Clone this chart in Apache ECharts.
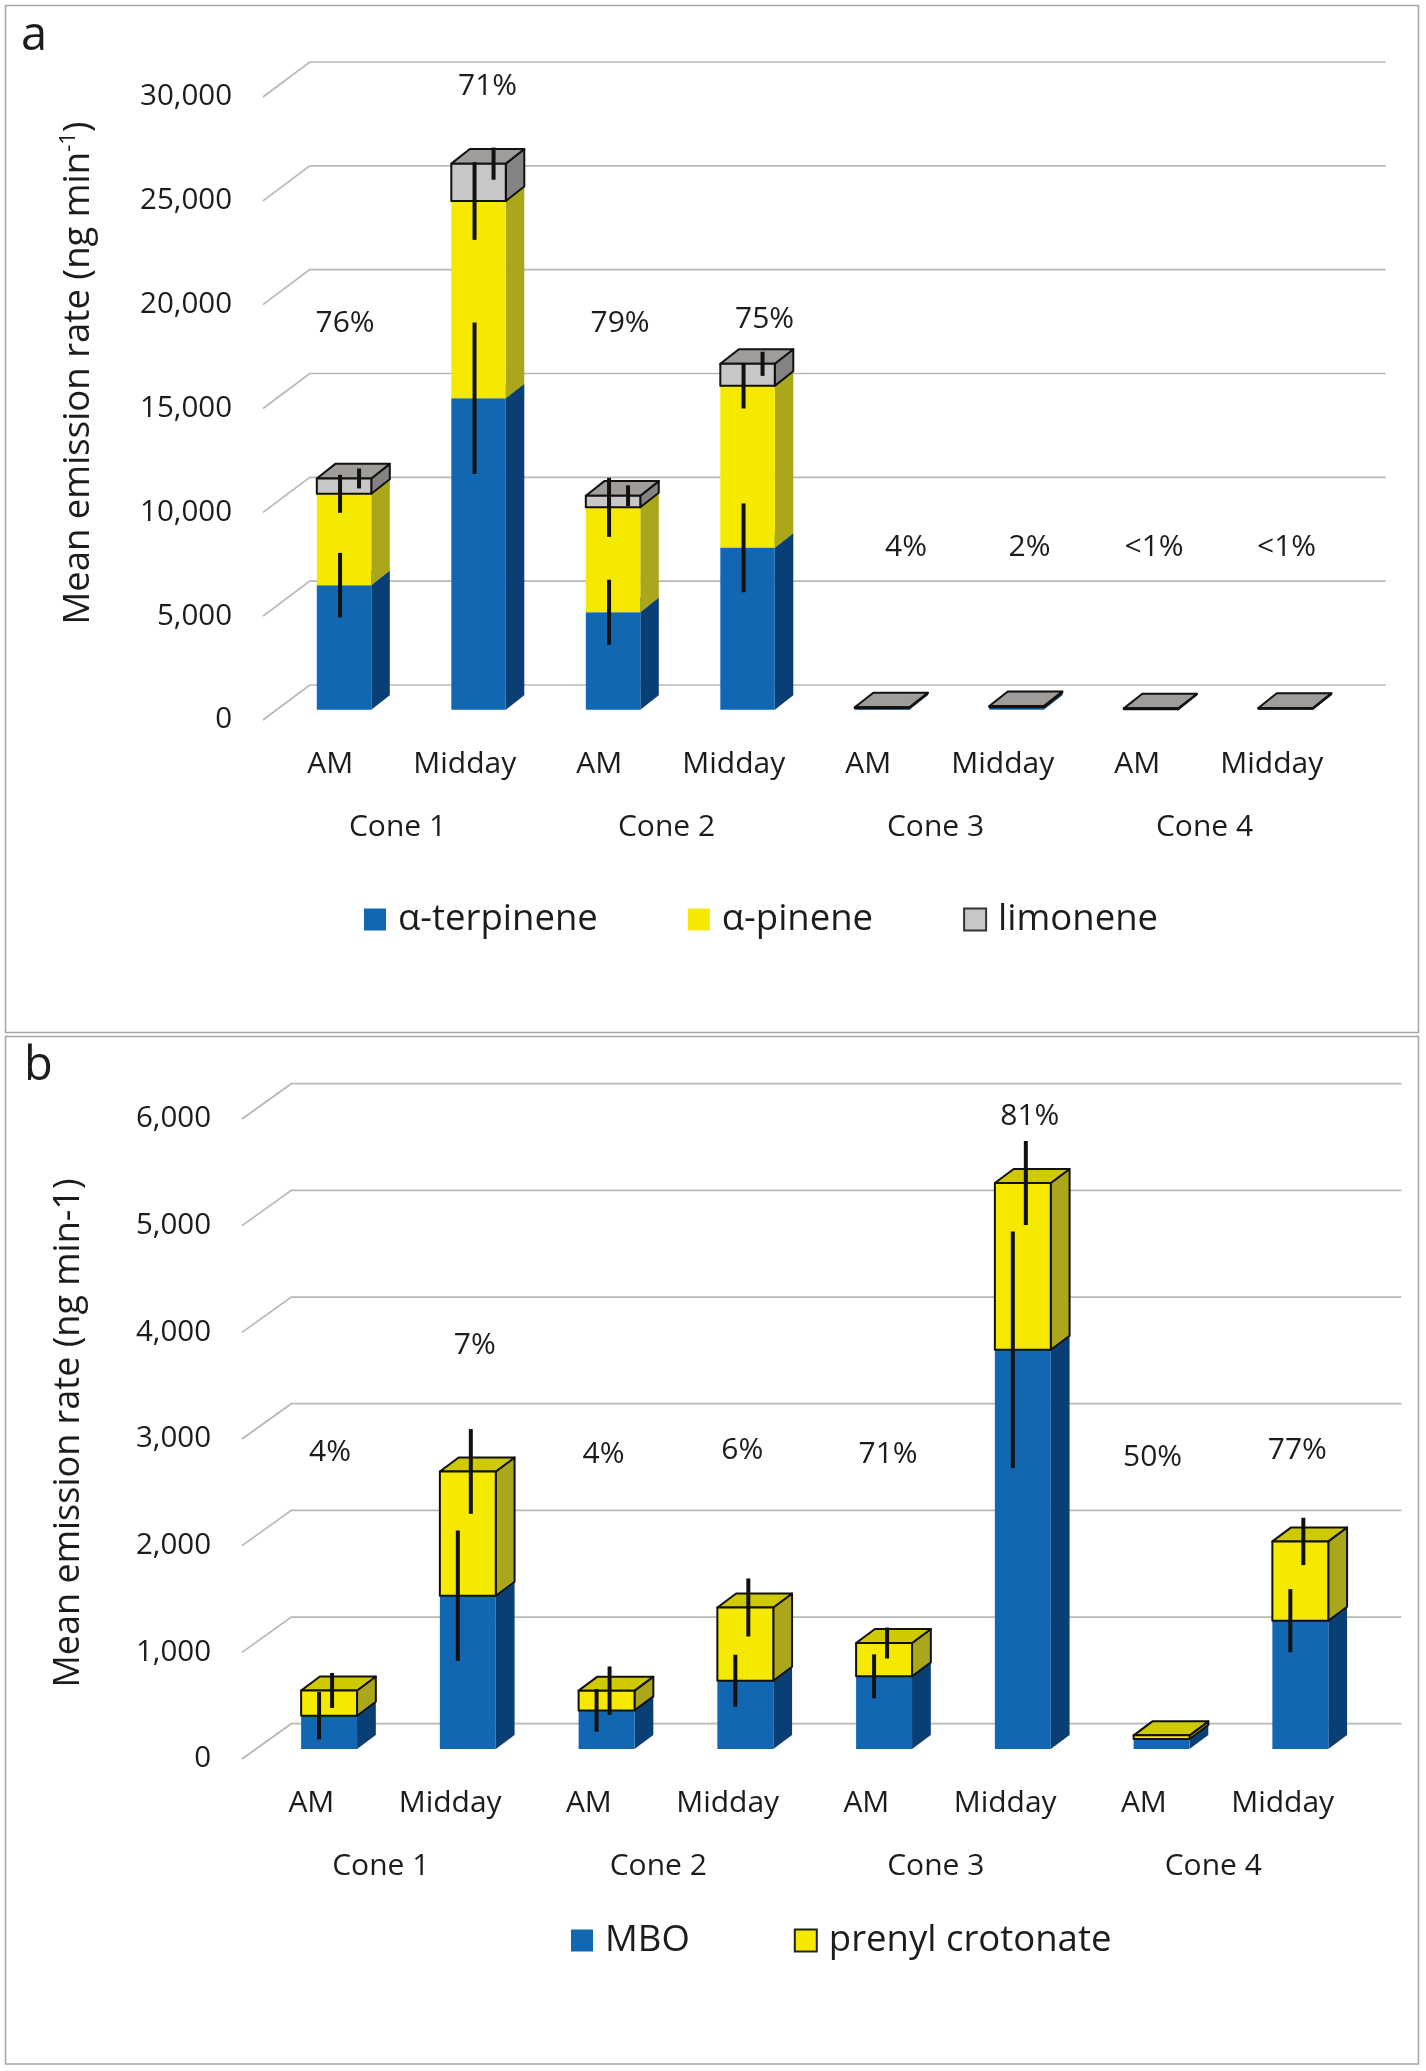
<!DOCTYPE html>
<html>
<head>
<meta charset="utf-8">
<title>Mean emission rate</title>
<script src="https://cdn.jsdelivr.net/npm/echarts@6/dist/echarts.min.js"></script>
<style>
  html, body { margin: 0; padding: 0; background: #fff; }
  #chart { width: 1426px; height: 2071px; }
</style>
</head>
<body>
<div id="chart"></div>
<script>
// categories
var times = ['AM', 'Midday', 'AM', 'Midday', 'AM', 'Midday', 'AM', 'Midday'];
var cones = ['Cone 1', 'Cone 2', 'Cone 3', 'Cone 4'];

// panel a (ng min-1)
var terpinene = [6000, 15000, 4700, 7800, 60, 90, 20, 40];
var pinene = [4400, 9500, 5050, 7800, 20, 30, 10, 10];
var limonene = [740, 1800, 560, 1060, 40, 60, 40, 40];
var terpineneErr = [1555, 3650, 1565, 2140, 0, 0, 0, 0];
var pineneErr = [915, 1870, 1420, 1090, 0, 0, 0, 0];
var limoneneErr = [480, 775, 500, 580, 0, 0, 0, 0];
var pctA = ['76%', '71%', '79%', '75%', '4%', '2%', '<1%', '<1%'];
var pctAAt = [19100, 30500, 19100, 19300, 8300, 8300, 8300, 8300];
var ticksA = [0, 5000, 10000, 15000, 20000, 25000, 30000];

// panel b (ng min-1)
var mbo = [312, 1437, 362, 640, 681, 3743, 94, 1203];
var prenyl = [237, 1165, 185, 687, 313, 1563, 34, 743];
var mboErr = [222, 612, 200, 244, 206, 1109, 0, 296];
var prenylErr = [164, 397, 227, 272, 145, 394, 0, 222];
var pctB = ['4%', '7%', '4%', '6%', '71%', '81%', '50%', '77%'];
var pctBAt = [2876, 3879, 2853, 2890, 2853, 6021, 2827, 2890];
var ticksB = [0, 1000, 2000, 3000, 4000, 5000, 6000];

var FONT = 'Open Sans';
var INK = '#1c1c1c';

// fake 3d look, pixel offsets; nudge = sideways shift of the % labels
var looks = [
  {front: [13.8, -10.2], depth: [18.5, -14.6], back: [46.7, -35], barFrac: 0.405, errDx: [-4, -4, 15],
   nudge: [1, 9, 7, 17, 24, 13, 3, 1]},
  {front: [17.7, -10], depth: [18.8, -14], back: [49.3, -35.3], barFrac: 0.403, errDx: [-10, 3],
   nudge: [1, 7, -3, -3, 4, 7, -9, -3]}
];

var BLUE = {face: '#1167b2', side: '#0a3f76', top: '#1a5a9a'};
var YELLOW = {face: '#f5e900', side: '#aba71b', top: '#cfc900'};
var GRAY = {face: '#c9c7c5', side: '#858381', top: '#9f9c9a'};

function stackRows(list) {
  var rows = list.map(function () { return []; });
  for (var i = 0; i < times.length; i++) {
    var base = 0;
    list.forEach(function (vals, k) {
      rows[k].push([i, base, base + vals[i]]);
      base += vals[i];
    });
  }
  return rows;
}

function errRows(list, errs) {
  var rows = [];
  for (var i = 0; i < times.length; i++) {
    var base = 0;
    list.forEach(function (vals, k) {
      base += vals[i];
      if (errs[k][i] > 0) rows.push([i, base, errs[k][i], k]);
    });
  }
  return rows;
}

function boxRender(look, col, outlined) {
  return function (params, api) {
    var i = api.value(0);
    var c0 = api.coord([i, api.value(1)]);
    var c1 = api.coord([i, api.value(2)]);
    var w = api.size([1, 0])[0] * look.barFrac;
    var xl = c0[0] + look.front[0] - w / 2, xr = xl + w;
    var yb = c0[1] + look.front[1], yt = c1[1] + look.front[1];
    var dx = look.depth[0], dy = look.depth[1];
    function st(fill) {
      return outlined ? {fill: fill, stroke: '#111', lineWidth: 2, lineJoin: 'round'} : {fill: fill};
    }
    return {
      type: 'group',
      children: [
        {type: 'polygon', shape: {points: [[xr, yb], [xr + dx, yb + dy], [xr + dx, yt + dy], [xr, yt]]}, style: st(col.side)},
        {type: 'polygon', shape: {points: [[xl, yt], [xl + dx, yt + dy], [xr + dx, yt + dy], [xr, yt]]}, style: st(col.top)},
        {type: 'rect', shape: {x: xl, y: yt, width: w, height: yb - yt}, style: st(col.face)}
      ]
    };
  };
}

function gridRender(look) {
  return function (params, api) {
    var y = api.coord([0, api.value(1)])[1];
    var cs = params.coordSys;
    var bx = look.back[0], by = look.back[1];
    return {
      type: 'polyline',
      shape: {points: [[cs.x, y], [cs.x + bx, y + by], [cs.x + cs.width + bx, y + by]]},
      style: {stroke: '#bab6b6', lineWidth: 1.7, fill: 'none'}
    };
  };
}

function errRender(look) {
  return function (params, api) {
    var i = api.value(0), v = api.value(1), e = api.value(2), k = api.value(3);
    var lo = api.coord([i, v - e]), hi = api.coord([i, v + e]);
    var x = lo[0] + look.front[0] + look.errDx[k];
    return {
      type: 'line',
      shape: {x1: x, y1: lo[1] + look.front[1], x2: x, y2: hi[1] + look.front[1]},
      style: {stroke: '#111', lineWidth: 4}
    };
  };
}

function pctRender(look, texts) {
  return function (params, api) {
    var p = api.coord([api.value(0), api.value(1)]);
    return {
      type: 'text',
      x: p[0] + look.front[0] + look.nudge[params.dataIndex],
      y: p[1],
      style: {text: texts[params.dataIndex], fontSize: 30, fontFamily: FONT, fill: INK, align: 'center', verticalAlign: 'middle'}
    };
  };
}

function panelSeries(idx, names, lists, cols, outlined, errs, pct, pctAt, ticks) {
  var look = looks[idx];
  var out = [];
  out.push({
    type: 'custom', name: 'grid' + idx, xAxisIndex: idx * 2, yAxisIndex: idx, z: 1, silent: true,
    renderItem: gridRender(look),
    data: ticks.map(function (t) { return [0, t]; })
  });
  var rows = stackRows(lists);
  names.forEach(function (nm, k) {
    out.push({
      type: 'custom', name: nm, xAxisIndex: idx * 2, yAxisIndex: idx, z: 2,
      itemStyle: {color: cols[k].face},
      renderItem: boxRender(look, cols[k], outlined[k]),
      data: rows[k]
    });
  });
  out.push({
    type: 'custom', name: 'err' + idx, xAxisIndex: idx * 2, yAxisIndex: idx, z: 3, silent: true,
    renderItem: errRender(look),
    data: errRows(lists, errs)
  });
  out.push({
    type: 'custom', name: 'pct' + idx, xAxisIndex: idx * 2, yAxisIndex: idx, z: 3, silent: true,
    renderItem: pctRender(look, pct),
    data: pctAt.map(function (v, i) { return [i, v]; })
  });
  return out;
}

function catAxis(grid, data, offset) {
  return {
    type: 'category', gridIndex: grid, data: data, position: 'bottom', offset: offset,
    axisLine: {show: false}, axisTick: {show: false}, splitLine: {show: false},
    axisLabel: {fontSize: 30, fontFamily: FONT, color: INK, margin: 29, interval: 0}
  };
}

function valAxis(grid, max, step) {
  return {
    type: 'value', gridIndex: grid, min: 0, max: max, interval: step,
    axisLine: {show: false}, axisTick: {show: false}, splitLine: {show: false},
    axisLabel: {
      fontSize: 29.5, fontFamily: FONT, color: INK, margin: 31, padding: [9, 0, 0, 0],
      formatter: function (v) { return v.toLocaleString('en-US'); }
    }
  };
}

var chart = echarts.init(document.getElementById('chart'));

var series = []
  .concat(panelSeries(0, ['α-terpinene', 'α-pinene', 'limonene'], [terpinene, pinene, limonene],
    [BLUE, YELLOW, GRAY], [false, false, true], [terpineneErr, pineneErr, limoneneErr], pctA, pctAAt, ticksA))
  .concat(panelSeries(1, ['MBO', 'prenyl crotonate'], [mbo, prenyl],
    [BLUE, YELLOW], [false, true], [mboErr, prenylErr], pctB, pctBAt, ticksB));

var legendText = {fontSize: 36.5, fontFamily: FONT, color: INK, padding: [0, 0, 0, 7]};

chart.setOption({
  animation: false,
  backgroundColor: '#fff',
  grid: [
    {left: 263, right: 87, top: 97, bottom: 1351},
    {left: 242, right: 74, top: 1119, bottom: 312}
  ],
  xAxis: [
    catAxis(0, times, 0), catAxis(0, cones, 63),
    catAxis(1, times, 0), catAxis(1, cones, 63)
  ],
  yAxis: [valAxis(0, 30000, 5000), valAxis(1, 6000, 1000)],
  legend: [
    {
      left: 359, top: 896, icon: 'rect', itemWidth: 22, itemHeight: 22, itemGap: 90,
      selectedMode: false, textStyle: legendText,
      data: [
        {name: 'α-terpinene'}, {name: 'α-pinene'},
        {name: 'limonene', itemStyle: {borderColor: '#333', borderWidth: 2}}
      ]
    },
    {
      left: 566, top: 1917, icon: 'rect', itemWidth: 22, itemHeight: 22, itemGap: 104,
      selectedMode: false, textStyle: legendText,
      data: [
        {name: 'MBO'},
        {name: 'prenyl crotonate', itemStyle: {borderColor: '#222', borderWidth: 2}}
      ]
    }
  ],
  graphic: [
    {type: 'rect', shape: {x: 5.5, y: 5.5, width: 1413, height: 1027}, style: {fill: 'none', stroke: '#a6a6a6', lineWidth: 1.5}},
    {type: 'rect', shape: {x: 5.5, y: 1036.5, width: 1413, height: 1027.5}, style: {fill: 'none', stroke: '#a6a6a6', lineWidth: 1.5}},
    {type: 'text', x: 21, y: 37, style: {text: 'a', fontSize: 47, fontFamily: FONT, fill: INK, verticalAlign: 'middle'}},
    {type: 'text', x: 24, y: 1067, style: {text: 'b', fontSize: 47, fontFamily: FONT, fill: INK, verticalAlign: 'middle'}},
    {
      type: 'text', x: 79, y: 373, rotation: Math.PI / 2,
      style: {
        text: 'Mean emission rate (ng min{sup|-1})', fontSize: 36.5, fontFamily: FONT, fill: INK,
        align: 'center', verticalAlign: 'middle',
        rich: {sup: {fontSize: 22, fontFamily: FONT, fill: INK, verticalAlign: 'top', lineHeight: 42}}
      }
    },
    {
      type: 'text', x: 69, y: 1433, rotation: Math.PI / 2,
      style: {
        text: 'Mean emission rate (ng min-1)', fontSize: 36, fontFamily: FONT, fill: INK,
        align: 'center', verticalAlign: 'middle'
      }
    }
  ],
  series: series
});
</script>
</body>
</html>
